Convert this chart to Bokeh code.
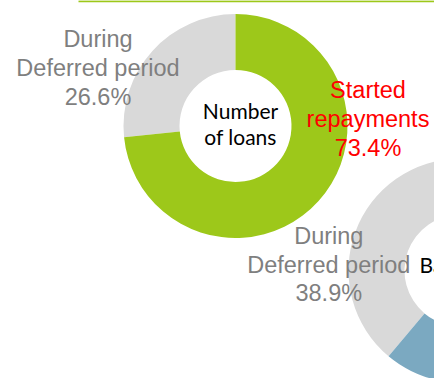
import math
from bokeh.plotting import figure
from bokeh.models import Range1d, ColumnDataSource
from bokeh.core.properties import value
from bokeh.embed import file_html
from bokeh.resources import INLINE

# ---- data ----
categories = ["During Deferred period", "Started repayments"]
loans_pct = [26.6, 73.4]          # Number of loans
balance_pct = [38.9, 61.1]        # Balance (second donut, partly visible)
loans_title = ["Number", "of loans"]
balance_title = ["Balance"]
label_gray = ["During", "Deferred period"]
label_red = ["Started", "repayments"]

# ---- layout (reference pixel coords, y down) ----
W, H = 434, 378
def Y(ry):
    return H - ry

p = figure(width=W, height=H, output_backend="svg", toolbar_location=None,
           x_range=Range1d(0, W), y_range=Range1d(0, H),
           min_border=0, outline_line_color=None)
p.axis.visible = False
p.xgrid.visible = False
p.ygrid.visible = False
p.background_fill_color = "white"
p.border_fill_color = "white"

def donut(cx, cy, pcts, colors):
    starts, ends = [], []
    a = math.pi / 2
    for v in pcts:
        starts.append(a)
        a += v / 100.0 * 2 * math.pi
        ends.append(a)
    src = ColumnDataSource(dict(start=starts, end=ends, color=colors))
    p.annular_wedge(x=cx, y=Y(cy), inner_radius=56, outer_radius=112,
                    start_angle="start", end_angle="end", direction="anticlock",
                    fill_color="color", line_color=None, source=src)

donut(235, 125.5, loans_pct, ["#D9D9D9", "#9DC81A"])
donut(460, 270, balance_pct, ["#D9D9D9", "#7BA9C1"])

# top frame line (green)
p.segment(x0=[78], y0=[Y(0.8)], x1=[440], y1=[Y(0.8)], line_color="#9DC81A", line_width=2)

SHIFT = -8  # empirical baseline correction

def lines(cx, baselines, texts, color, font, size, align="center"):
    p.text(x=[cx] * len(texts), y=[Y(b + SHIFT) for b in baselines], text=texts,
           text_color=color, text_font=value(font), text_font_size=value(size),
           text_align=align, text_baseline="alphabetic")

# labels donut 1
lines(97.5, [46.7, 75.7, 104.2], label_gray + [f"{loans_pct[0]}%"], "#7F7F7F", "Liberation Sans", "23.5px")
lines(367.5, [97, 126, 155], label_red + [f"{loans_pct[1]}%"], "#FF0000", "Liberation Sans", "23.5px")
lines(240, [118.3, 144.3], loans_title, "#000000", "Lato", "21px")

# labels donut 2
lines(328.3, [243.5, 272.3, 300.8], label_gray + [f"{balance_pct[0]}%"], "#7F7F7F", "Liberation Sans", "23.5px")
lines(419, [271.5], balance_title, "#000000", "Lato", "21px", align="left")

open("out.html", "w").write(file_html(p, INLINE))
